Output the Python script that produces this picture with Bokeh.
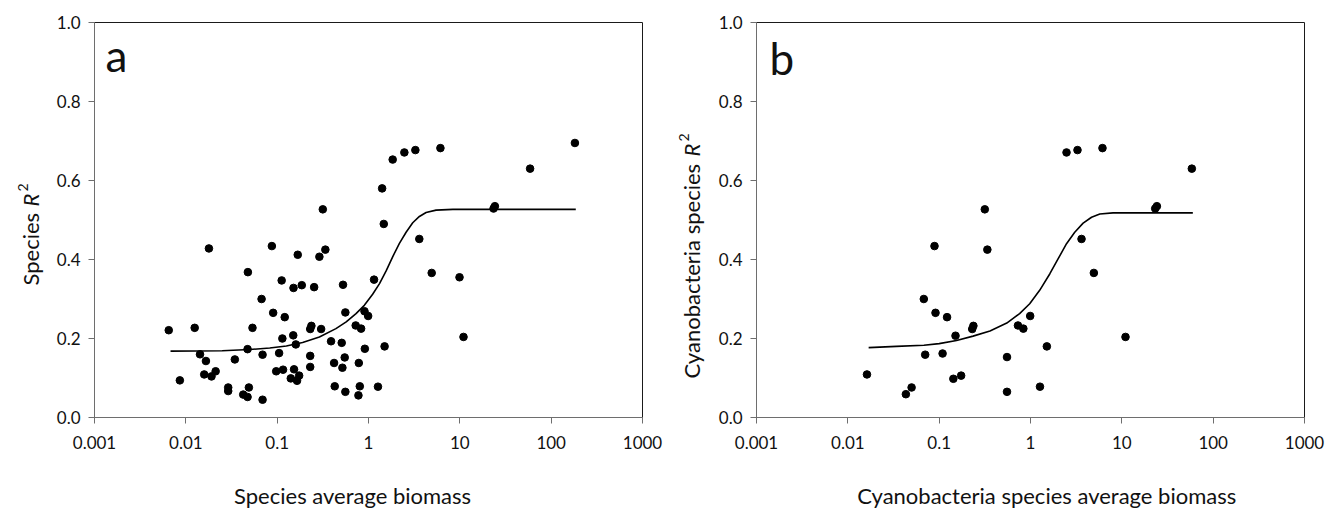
import math
from bokeh.plotting import figure
from bokeh.layouts import row, column
from bokeh.models import Range1d, FixedTicker, Label
from bokeh.embed import file_html
from bokeh.resources import INLINE

# ---------------- data ----------------
x_ticks = [0.001, 0.01, 0.1, 1, 10, 100, 1000]
x_tick_labels = ["0.001", "0.01", "0.1", "1", "10", "100", "1000"]
y_ticks = [0.0, 0.2, 0.4, 0.6, 0.8, 1.0]
y_tick_labels = ["0.0", "0.2", "0.4", "0.6", "0.8", "1.0"]

# panel a: all species
a_biomass = [0.0065, 0.0086, 0.0125, 0.0179, 0.0143, 0.0166, 0.0159, 0.0191, 0.0212, 0.0291,
             0.0291, 0.0344, 0.0425, 0.0474, 0.049, 0.0474, 0.0478, 0.0537, 0.0692, 0.0692,
             0.0675, 0.0875, 0.0904, 0.105, 0.0976, 0.116, 0.114, 0.112, 0.121, 0.150,
             0.160, 0.153, 0.141, 0.174, 0.165, 0.151, 0.168, 0.186, 0.230, 0.230,
             0.230, 0.237, 0.254, 0.303, 0.290, 0.316, 0.337, 0.389, 0.427, 0.420,
             0.509, 0.518, 0.549, 0.558, 0.526, 0.558, 0.724, 0.830, 0.904, 0.991,
             0.912, 0.783, 0.803, 0.776, 1.27, 1.50, 1.15, 1.47, 1.41, 1.84,
             2.47, 3.26, 6.13, 3.60, 4.92, 9.92, 10.97, 23.4, 24.2, 58.8, 182]
a_r2 = [0.221, 0.094, 0.227, 0.428, 0.160, 0.143, 0.109, 0.104, 0.117, 0.076,
        0.067, 0.147, 0.058, 0.052, 0.076, 0.173, 0.368, 0.227, 0.045, 0.159,
        0.300, 0.434, 0.265, 0.163, 0.117, 0.121, 0.200, 0.347, 0.254, 0.208,
        0.185, 0.122, 0.099, 0.106, 0.093, 0.328, 0.412, 0.335, 0.128, 0.156,
        0.224, 0.232, 0.330, 0.224, 0.407, 0.527, 0.425, 0.193, 0.079, 0.138,
        0.189, 0.126, 0.152, 0.065, 0.336, 0.266, 0.233, 0.225, 0.269, 0.257,
        0.174, 0.138, 0.079, 0.056, 0.078, 0.180, 0.349, 0.490, 0.580, 0.653,
        0.671, 0.677, 0.682, 0.452, 0.366, 0.355, 0.204, 0.529, 0.535, 0.630, 0.695]
a_fit_x = [0.0068, 0.025, 0.05, 0.083, 0.126, 0.19, 0.29, 0.44, 0.57, 0.73, 0.90, 1.11,
           1.32, 1.56, 1.85, 2.18, 2.58, 3.05, 3.61, 4.27, 5.5, 8.4, 186]
a_fit_y = [0.168, 0.169, 0.172, 0.176, 0.181, 0.190, 0.204, 0.225, 0.242, 0.263, 0.284, 0.312,
           0.339, 0.371, 0.408, 0.441, 0.469, 0.493, 0.509, 0.519, 0.525, 0.527, 0.527]

# panel b: cyanobacteria species
b_biomass = [0.0162, 0.0432, 0.0499, 0.0679, 0.0703, 0.0889, 0.0912, 0.109, 0.122, 0.151,
             0.143, 0.174, 0.230, 0.237, 0.316, 0.337, 0.553, 0.553, 0.729, 0.835,
             0.992, 1.51, 1.27, 2.48, 3.27, 6.14, 3.62, 4.94, 10.97, 23.2, 24.2, 58.4]
b_r2 = [0.109, 0.059, 0.076, 0.300, 0.159, 0.434, 0.265, 0.162, 0.254, 0.207,
        0.098, 0.106, 0.224, 0.232, 0.527, 0.425, 0.153, 0.065, 0.233, 0.225,
        0.257, 0.180, 0.078, 0.671, 0.677, 0.682, 0.452, 0.366, 0.204, 0.529, 0.535, 0.630]
b_fit_x = [0.0169, 0.034, 0.068, 0.10, 0.155, 0.235, 0.36, 0.55, 0.76, 0.98, 1.26, 1.63,
           2.01, 2.48, 3.05, 3.77, 4.66, 5.74, 8.0, 59.9]
b_fit_y = [0.177, 0.180, 0.183, 0.187, 0.195, 0.206, 0.219, 0.239, 0.263, 0.288, 0.322, 0.364,
           0.402, 0.440, 0.469, 0.492, 0.507, 0.515, 0.518, 0.518]

FONT = "Lato"
AXIS_COL = "#6e6e6e"
TXT = "#111111"
PLOT_H = 470
XLAB_H = 511 - PLOT_H


def make_panel(width, left, right, xs, ys, fx, fy, letter, letter_x, letter_y):
    p = figure(width=width, height=PLOT_H, x_axis_type="log",
               x_range=Range1d(0.001, 1000), y_range=Range1d(0, 1.0),
               output_backend="svg", toolbar_location=None,
               min_border_left=left, min_border_right=right,
               min_border_top=22, min_border_bottom=PLOT_H - 22 - 395)
    p.grid.visible = False
    p.outline_line_color = "#1a1a1a"
    p.outline_line_width = 1

    p.xaxis.ticker = FixedTicker(ticks=x_ticks)
    p.xaxis.major_label_overrides = {t: s for t, s in zip(x_ticks, x_tick_labels)}
    p.yaxis.ticker = FixedTicker(ticks=y_ticks)
    p.yaxis.major_label_overrides = {t: s for t, s in zip(y_ticks, y_tick_labels)}
    for ax in (p.xaxis, p.yaxis):
        ax.axis_line_color = AXIS_COL
        ax.axis_line_width = 1
        ax.major_tick_line_color = AXIS_COL
        ax.major_tick_in = 0
        ax.major_tick_out = 6
        ax.minor_tick_line_color = None
        ax.major_label_text_font = FONT
        ax.major_label_text_font_size = "17px"
        ax.major_label_text_color = TXT
    p.xaxis.major_label_standoff = 12
    p.yaxis.major_label_standoff = 8

    p.line(fx, fy, line_color="black", line_width=1.6)
    p.scatter(xs, ys, size=7.6, fill_color="black", line_color="black")

    p.add_layout(Label(x=letter_x, y=letter_y, x_units="screen", y_units="screen",
                       text=letter, text_font=FONT, text_font_size="44px",
                       text_color=TXT, text_baseline="alphabetic"))
    return p


def text_fig(w, h):
    f = figure(width=w, height=h, x_range=Range1d(0, w), y_range=Range1d(0, h),
               x_axis_location=None, y_axis_location=None, min_border=0,
               output_backend="svg", toolbar_location=None)
    f.grid.visible = False
    f.outline_line_color = None
    return f


def ylabel_fig(w, base_x, words, start_y, r_y):
    f = text_fig(w, 511)
    common = dict(text_color=TXT, text_align="left", text_baseline="alphabetic",
                  angle=math.pi / 2, text_font=FONT)
    f.add_layout(Label(x=base_x, y=start_y, text=words, text_font_size="22px", **common))
    f.add_layout(Label(x=base_x, y=r_y, text="R", text_font_size="22px",
                       text_font_style="italic", **common))
    f.add_layout(Label(x=base_x - 8, y=r_y + 15, text="2", text_font_size="14px", **common))
    return f


def xlabel_fig(w, cx, words):
    f = text_fig(w, XLAB_H)
    f.add_layout(Label(x=cx, y=16, text=words, text_font=FONT, text_font_size="22px",
                       text_color=TXT, text_align="center", text_baseline="alphabetic"))
    return f


# panel a block: x 0..670
ya = ylabel_fig(50, 30, "Species", 226, 305)
pa = make_panel(620, 44, 28, a_biomass, a_r2, a_fit_x, a_fit_y, "a", 11, 363)
xa = xlabel_fig(620, 292, "Species average biomass")

# panel b block: x 670..1337
yb = ylabel_fig(42, 21, "Cyanobacteria species", 133, 355)
pb = make_panel(625, 44, 33, b_biomass, b_r2, b_fit_x, b_fit_y, "b", 13, 360)
xb = xlabel_fig(625, 331, "Cyanobacteria species average biomass")

layout = row(ya, column(pa, xa, spacing=0), yb, column(pb, xb, spacing=0), spacing=0)
open("out.html", "w").write(file_html(layout, INLINE))
